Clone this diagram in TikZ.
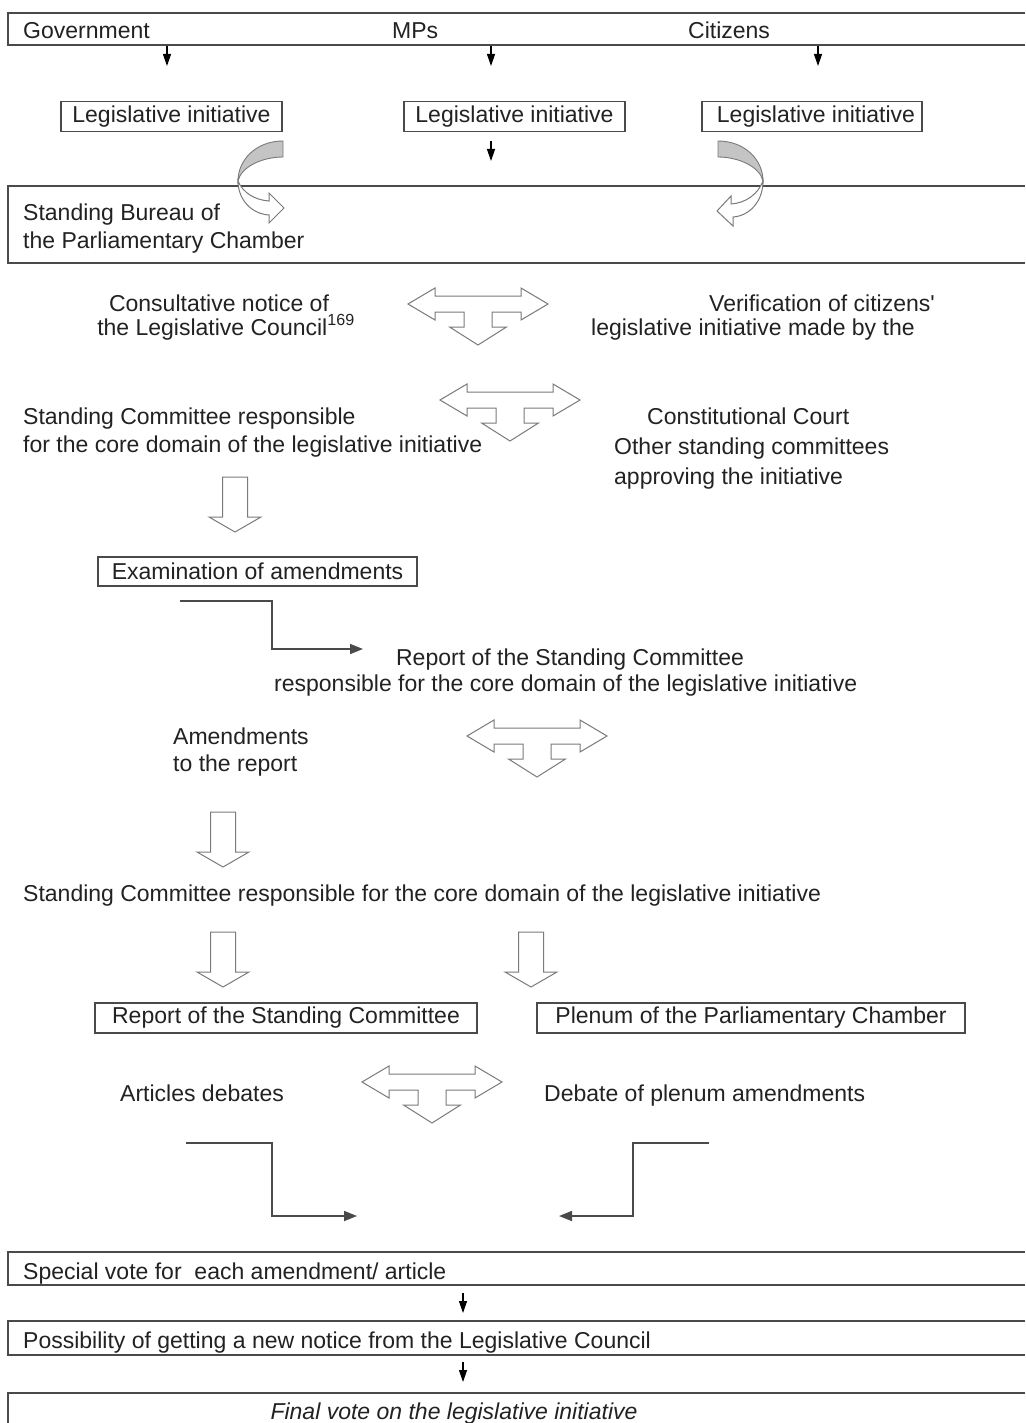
\documentclass[tikz,border=0pt]{standalone}
\usepackage{fontspec}
\setmainfont{Liberation Sans}
\newfontfamily\nolig{Liberation Sans}
\usetikzlibrary{arrows.meta}
\definecolor{txt}{HTML}{222222}
\definecolor{linec}{HTML}{4A4A4A}
\definecolor{arrgray}{HTML}{7A7A7A}
\definecolor{ribbon}{HTML}{C4C4C4}
\newcommand{\fs}{\fontsize{23}{27}\selectfont}
\tikzset{
  band/.style={draw=linec, line width=1.4pt},
  lbl/.style={font=\fs, text=txt, inner sep=0pt, anchor=base west},
  clbl/.style={font=\fs, text=txt, inner sep=0pt, anchor=base},
  boxn/.style={draw=linec, line width=1.2pt, font=\fs, text=txt, inner sep=0pt, minimum height=30pt},
  smallarr/.style={-{Triangle[length=12pt,width=8pt]}, line width=1.2pt, draw=black},
  elbow/.style={-{Triangle[length=13pt,width=10pt]}, line width=1.7pt, draw=linec},
  blockarr/.style={draw=arrgray, line width=1pt, fill=white, line join=miter},
  pics/downarr/.style={code={
    \draw[blockarr] (-12.5,0) -- (12.5,0) -- (12.5,40) -- (26,40) -- (0,55) -- (-26,40) -- (-12.5,40) -- cycle;
  }},
  pics/teearr/.style={code={
    \draw[blockarr] (-70,0) -- (-43,-16) -- (-43,-8) -- (43,-8) -- (43,-16) -- (70,0) -- (43,16) -- (43,8)
      -- (14,8) -- (14,23) -- (28.5,23) -- (0,41) -- (-28.5,23) -- (-14,23) -- (-14,8) -- (-43,8) -- (-43,16) -- cycle;
  }}
}
\begin{document}
\begin{tikzpicture}[x=1pt,y=-1pt]
\useasboundingbox (0,0) rectangle (1025,1423);
\fill[white] (0,0) rectangle (1025,1423);

% horizontal bands
\draw[band] (1025,13) -- (8,13) -- (8,45) -- (1025,45);
\draw[band] (1025,186) -- (8,186) -- (8,263) -- (1025,263);
\draw[band] (1025,1252) -- (8,1252) -- (8,1285) -- (1025,1285);
\draw[band] (1025,1321) -- (8,1321) -- (8,1355) -- (1025,1355);
\draw[band] (1025,1393) -- (8,1393) -- (8,1430);

% top row
\node[lbl] (gov) at (23,39) {Government};
\node[lbl] (mps) at (392,39) {MPs};
\node[lbl] (cit) at (688,39) {Citizens};

\coordinate (g1) at (167,46); \coordinate (g2) at (167,66);
\coordinate (m1) at (491,46); \coordinate (m2) at (491,66);
\coordinate (c1) at (818,46); \coordinate (c2) at (818,66);
\draw[smallarr] (g1) -- (g2);
\draw[smallarr] (m1) -- (m2);
\draw[smallarr] (c1) -- (c2);

\node[boxn, minimum width=221pt] (li1) at (171.5,116.5) {Legislative initiative};
\node[boxn, minimum width=221pt] (li2) at (514.5,116.5) {Legislative initiative};
\node[boxn, minimum width=220pt] (li3) at (812,116.5) {\hspace*{8pt}Legislative initiative};

\coordinate (m3) at (491,141); \coordinate (m4) at (491,161);
\draw[smallarr] (m3) -- (m4);

% curved arrows (left)
\draw[draw=arrgray, line width=0.9pt, fill=ribbon]
  (283,141) .. controls (256,141) and (238,160) .. (238,181)
  .. controls (241,167) and (262,157) .. (283,157) -- cycle;
\draw[blockarr]
  (238,181) .. controls (238,200) and (252,214) .. (269,215)
  -- (269,223) -- (284,208) -- (269,193) -- (269,201)
  .. controls (255,200) and (243,193) .. (238,181) -- cycle;
% curved arrows (right)
\draw[draw=arrgray, line width=0.9pt, fill=ribbon]
  (718,141) .. controls (745,141) and (763,160) .. (763,181)
  .. controls (760,167) and (739,157) .. (718,157) -- cycle;
\draw[blockarr]
  (763,181) .. controls (763,202) and (749,216) .. (733,217)
  -- (733,226) -- (717,211) -- (731,196) -- (731,204)
  .. controls (746,203) and (758,194) .. (763,181) -- cycle;

\node[lbl] (bur1) at (23,221) {Standing Bureau of};
\node[lbl] (bur2) at (23,248) {the Parliamentary Chamber};

% consultative / verification
\node[clbl] (cons1) at (219,311) {Consultative notice of};
\node[clbl] (cons2) at (226,335) {the Legislative Council\textsuperscript{169}};
\pic at (478,304) {teearr};
\node[lbl] (ver1) at (709,311) {Verification of citizens{\nolig '}};
\node[lbl] (ver2) at (591,335) {legislative initiative made by the};

\node[lbl] (sc1) at (23,424) {Standing Committee responsible};
\node[lbl] (sc2) at (23,452) {for the core domain of the legislative initiative};
\pic at (510,400) {teearr};
\node[lbl] (cc) at (647,424) {Constitutional Court};
\node[lbl] (osc1) at (614,454) {Other standing committees};
\node[lbl] (osc2) at (614,484) {approving the initiative};

\pic at (235,477) {downarr};

\node[boxn, minimum width=319pt, minimum height=29pt] (exam) at (257.5,571.5) {Examination of amendments};

\coordinate (e1s) at (180,601); \coordinate (e1e) at (363,649);
\draw[elbow] (e1s) -- (272,601) -- (272,649) -- (e1e);

\node[clbl] (rep1) at (570,665) {Report of the Standing Committee};
\node[lbl] (rep2) at (274,691) {responsible for the core domain of the legislative initiative};

\node[lbl] (am1) at (173,744) {Amendments};
\node[lbl] (am2) at (173,771) {to the report};
\pic at (537,736) {teearr};

\pic at (223,812) {downarr};

\node[lbl] (scl) at (23,901) {Standing Committee responsible for the core domain of the legislative initiative};

\pic at (223,932) {downarr};
\pic at (531,932) {downarr};

\node[boxn, minimum width=382pt] (rsc) at (286,1018) {Report of the Standing Committee};
\node[boxn, minimum width=428pt] (plen) at (751,1018) {Plenum of the Parliamentary Chamber};

\node[lbl] (art) at (120,1101) {Articles debates};
\node[lbl] (deb) at (544,1101) {Debate of plenum amendments};
\pic at (432,1082) {teearr};

\coordinate (e2s) at (186,1143); \coordinate (e2e) at (357,1216);
\draw[elbow] (e2s) -- (272,1143) -- (272,1216) -- (e2e);
\coordinate (e3s) at (709,1143); \coordinate (e3e) at (559,1216);
\draw[elbow] (e3s) -- (633,1143) -- (633,1216) -- (e3e);

% bottom
\node[lbl] (sv) at (23,1279) {Special vote for\ \ each amendment/ article};
\coordinate (s1) at (463,1293); \coordinate (s2) at (463,1313);
\draw[smallarr] (s1) -- (s2);
\node[lbl] (pos) at (23,1348) {Possibility of getting a new notice from the Legislative Council};
\coordinate (p1) at (463,1362); \coordinate (p2) at (463,1382);
\draw[smallarr] (p1) -- (p2);
\node[clbl, font=\fs\itshape] (fin) at (454,1419) {Final vote on the legislative initiative};
\end{tikzpicture}
\end{document}
